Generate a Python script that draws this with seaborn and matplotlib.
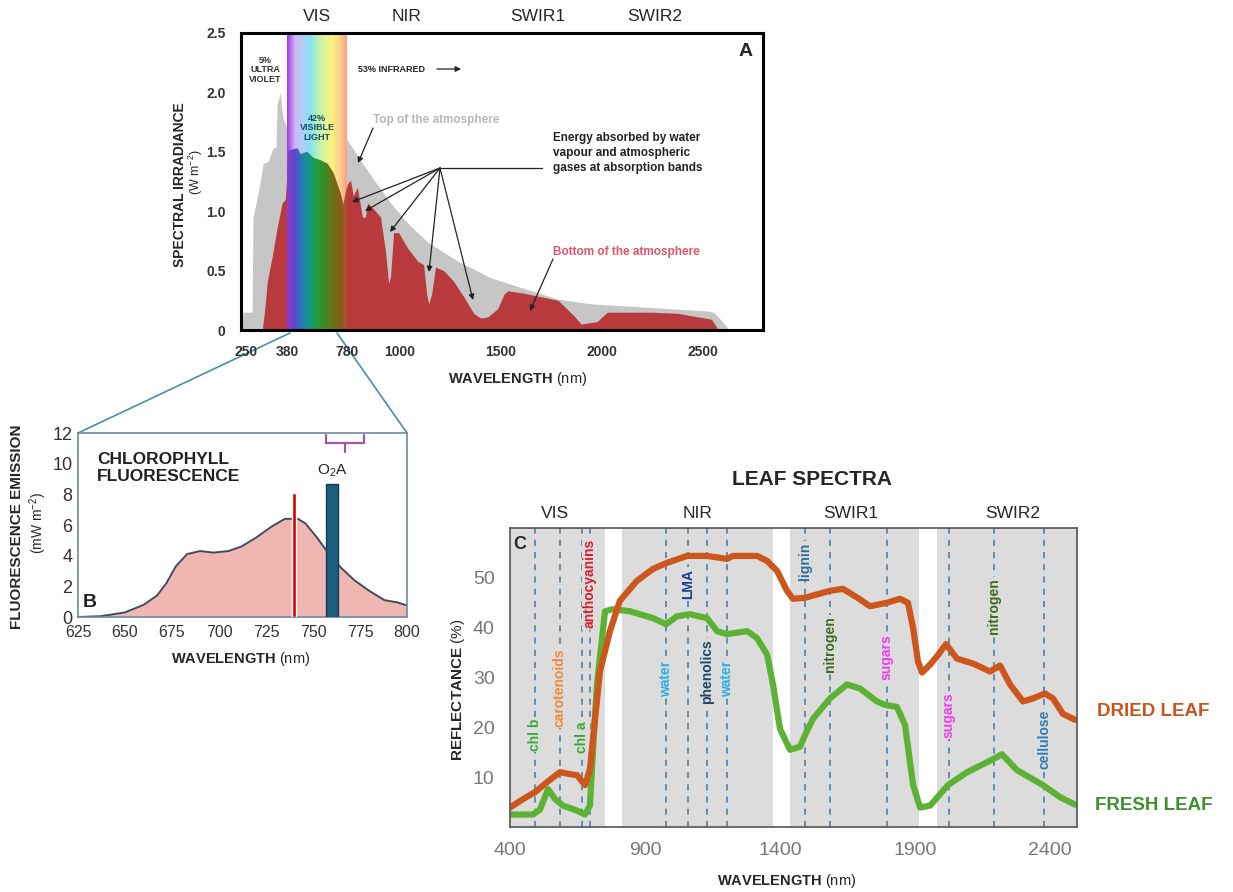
import numpy as np
import matplotlib
matplotlib.use("Agg")
import matplotlib.pyplot as plt
from matplotlib.colors import LinearSegmentedColormap
from matplotlib.lines import Line2D
import seaborn as sns

# ---- panel A: solar irradiance (W m-2) ----
toa_nm = [225, 235, 269, 272, 288, 304, 320, 333, 345, 348, 358, 367, 380, 450, 550, 650, 730,
          780, 835, 890, 962, 1040, 1139, 1287, 1450, 1614, 1782, 1946, 2144, 2327, 2520, 2550,
          2589, 2629]
toa_val = [0.0, 0.15, 0.15, 0.95, 1.15, 1.40, 1.42, 1.52, 1.55, 1.90, 2.00, 1.78, 1.70, 2.0,
           1.95, 1.85, 1.70, 1.60, 1.43, 1.27, 1.07, 0.90, 0.74, 0.58, 0.44, 0.35, 0.26, 0.22,
           0.20, 0.18, 0.16, 0.15, 0.08, 0.0]
boa_nm = [301, 310, 317, 332, 348, 364, 374, 387, 447, 467, 513, 553, 600, 647, 687, 733, 753,
          780, 793, 805, 822, 835, 843, 856, 865, 890, 920, 941, 954, 962, 975, 996, 1040, 1089,
          1119, 1134, 1144, 1158, 1178, 1218, 1267, 1317, 1366, 1401, 1436, 1485, 1515, 1535,
          1614, 1782, 1861, 1896, 1975, 2025, 2243, 2376, 2441, 2540, 2574]
boa_val = [0.0, 0.2, 0.41, 0.61, 0.86, 1.07, 1.10, 1.51, 1.53, 1.48, 1.50, 1.45, 1.43, 1.40,
           1.32, 1.15, 1.05, 1.23, 1.26, 1.13, 1.20, 1.05, 0.95, 0.95, 1.07, 1.02, 0.95, 0.66,
           0.39, 0.45, 0.82, 0.82, 0.69, 0.58, 0.55, 0.30, 0.22, 0.30, 0.53, 0.50, 0.41, 0.28,
           0.14, 0.10, 0.11, 0.18, 0.30, 0.33, 0.31, 0.25, 0.12, 0.05, 0.07, 0.15, 0.15, 0.14,
           0.12, 0.09, 0.0]
a_ticks = [250, 380, 780, 1000, 1500, 2000, 2500]
a_yticks = [0, 0.5, 1.0, 1.5, 2.0, 2.5]
a_ylabels = ["0", "0.5", "1.0", "1.5", "2.0", "2.5"]
a_bands = ["VIS", "NIR", "SWIR1", "SWIR2"]
a_band_nm = [580, 1035, 1683, 2262]

# ---- panel B: chlorophyll fluorescence (mW m-2) ----
fluo_nm = [625, 637, 650, 660, 667, 672, 677, 683, 690, 697, 705, 712, 720, 728, 735, 742, 746,
           752, 758, 765, 772, 780, 788, 795, 800]
fluo_val = [0.0, 0.05, 0.3, 0.8, 1.4, 2.2, 3.3, 4.1, 4.3, 4.2, 4.3, 4.6, 5.2, 5.9, 6.4, 6.4, 6.1,
            5.2, 4.2, 3.2, 2.4, 1.7, 1.1, 0.95, 0.75]
red_line_nm, red_line_val = 740, 8.1
o2a_nm, o2a_val = 760, 8.7

# ---- panel C: leaf reflectance (%) ----
dried_nm = [400, 448, 493, 537, 585, 622, 648, 678, 696, 715, 733, 770, 807, 870, 930, 981, 1056,
            1130, 1204, 1226, 1315, 1352, 1389, 1426, 1448, 1493, 1585, 1633, 1690, 1733, 1796,
            1844, 1874, 1893, 1911, 1926, 1956, 1985, 2015, 2055, 2115, 2178, 2215, 2252, 2300,
            2337, 2381, 2411, 2448, 2493]
dried_val = [3.9, 5.6, 7.0, 9.0, 11.0, 10.6, 10.4, 8.4, 11.6, 21.7, 31.2, 39.3, 45.4, 49.4, 51.8,
             53.0, 54.4, 54.4, 53.8, 54.4, 54.4, 53.4, 51.4, 47.4, 45.8, 46.0, 47.4, 47.8, 45.9,
             44.3, 45.0, 45.8, 45.0, 39.9, 33.2, 31.0, 32.6, 34.5, 36.7, 33.8, 32.8, 31.2, 32.4,
             28.6, 25.2, 25.8, 26.8, 25.8, 22.7, 21.5]
fresh_nm = [400, 485, 511, 541, 567, 596, 648, 678, 696, 707, 722, 752, 781, 844, 930, 978, 1019,
            1067, 1130, 1167, 1204, 1278, 1315, 1352, 1374, 1400, 1437, 1474, 1493, 1522, 1585,
            1648, 1696, 1759, 1789, 1833, 1863, 1893, 1919, 1956, 2022, 2093, 2189, 2222, 2278,
            2374, 2437, 2493]
fresh_val = [2.5, 2.5, 3.5, 7.6, 5.6, 4.3, 3.3, 2.5, 4.3, 15.0, 28.6, 43.3, 43.7, 43.3, 41.9,
             40.7, 42.3, 42.7, 41.9, 39.3, 38.7, 39.3, 37.9, 34.6, 28.6, 19.7, 15.5, 16.1, 18.5,
             21.7, 25.8, 28.6, 27.8, 25.2, 24.5, 24.1, 20.5, 8.4, 3.9, 4.3, 8.4, 11.0, 13.6, 14.6,
             11.4, 8.4, 6.0, 4.5]
c_gray_bands = [(400, 752), (815, 1374), (1437, 1915), (1981, 2500)]
feat_nm = [493, 585, 666, 696, 978, 1060, 1130, 1204, 1493, 1585, 1796, 2026, 2193, 2378]
feat_label = ["chl b", "carotenoids", "chl a", "anthocyanins", "water", "LMA", "phenolics",
              "water", "lignin", "nitrogen", "sugars", "sugars", "nitrogen", "cellulose"]
feat_color = ["#3aa935", "#f28a3c", "#3aa935", "#d81e2c", "#29aee6", "#1e3a8c", "#1c4766",
              "#29aee6", "#2a6e9c", "#3f6b1f", "#f03cf0", "#f03cf0", "#3f6b1f", "#2b7bb3"]
feat_text_y = [18.5, 28, 18, 48.8, 29.8, 48.8, 31.2, 29.8, 53.4, 36.7, 34, 22.5, 44.3, 17.5]
c_bands = ["VIS", "NIR", "SWIR1", "SWIR2"]
c_band_nm = [567, 1096, 1663, 2263]

W, H = 1233, 892


def fxy(x, y):
    return (x / W, 1 - y / H)


def box(l, t, r, b):
    return [l / W, 1 - b / H, (r - l) / W, (b - t) / H]


# the original panel A stretches the visible part of the axis
knot_nm = [0, 250, 380, 780, 1000, 2500, 4000]
knot_px = [195.25, 246, 287, 347, 399, 702, 1006.5]


def a_fwd(x):
    return np.interp(x, knot_nm, knot_px)


def a_inv(p):
    return np.interp(p, knot_px, knot_nm)


sns.set_style("white")
plt.rcParams["font.family"] = ["Liberation Sans", "DejaVu Sans"]
plt.rcParams["mathtext.fontset"] = "custom"
plt.rcParams["mathtext.rm"] = "Liberation Sans"
plt.rcParams["mathtext.bf"] = "Liberation Sans:bold"
plt.rcParams["mathtext.it"] = "Liberation Sans:italic"

fig = plt.figure(figsize=(W / 100, H / 100), dpi=100)

# ================= PANEL A =================
axA = fig.add_axes(box(241, 33, 763, 330))
axA.set_xscale("function", functions=(a_fwd, a_inv))
axA.fill_between(toa_nm, toa_val, color="#c6c6c6", lw=0, zorder=1)

pale_colors = ["#a040e8", "#d6b4f2", "#b0cdf8", "#86e2f2", "#b6f0b8", "#dff59a", "#fbf07a",
               "#fdd08c", "#f79a84"]
dark_colors = ["#8c3ccc", "#5a48d0", "#1f7fb0", "#149a7c", "#1f9a3c", "#3e8a22", "#6a7418",
               "#806214", "#b84a3a"]
pale = LinearSegmentedColormap.from_list("pale", pale_colors)
dark = LinearSegmentedColormap.from_list("dark", dark_colors)
grad = np.linspace(0, 1, 256).reshape(1, -1)
axA.imshow(grad, extent=(380, 780, 0, 2.5), aspect="auto", cmap=pale, zorder=2)
boa = axA.fill_between(boa_nm, boa_val, color="#b83a3c", lw=0, zorder=3)
im = axA.imshow(grad, extent=(380, 780, 0, 2.5), aspect="auto", cmap=dark, zorder=4)
im.set_clip_path(boa.get_paths()[0], axA.transData)

axA.set_xlim(225, 2793)
axA.set_ylim(0, 2.5)
axA.set_xticks(a_ticks)
axA.set_xticklabels([str(t) for t in a_ticks])
axA.set_yticks(a_yticks)
axA.set_yticklabels(a_ylabels)
axA.minorticks_off()
axA.tick_params(length=0, labelsize=10, labelcolor="#333333", pad=11)
for lab in axA.get_xticklabels() + axA.get_yticklabels():
    lab.set_fontweight("bold")
for s in axA.spines.values():
    s.set_linewidth(2.2)
    s.set_color("black")
    s.set_zorder(6)

for name, nm in zip(a_bands, a_band_nm):
    axA.text(nm, 2.64, name, ha="center", va="center", fontsize=12.5, clip_on=False)

fig.text(*fxy(746, 51), "A", ha="center", va="center", fontsize=14, fontweight="bold")
fig.text(*fxy(265, 70), "5%\nULTRA\nVIOLET", ha="center", va="center", fontsize=6.5,
         fontweight="bold", color="#333333", linespacing=1.1, zorder=10)
fig.text(*fxy(317, 128), "42%\nVISIBLE\nLIGHT", ha="center", va="center", fontsize=6.5,
         fontweight="bold", color="#1d4f5f", linespacing=1.1, zorder=10)
fig.text(*fxy(358, 69), "53% INFRARED", ha="left", va="center", fontsize=6.5,
         fontweight="bold", color="#222222")
fig.text(*fxy(373, 120), "Top of the atmosphere", ha="left", va="center", fontsize=8.5,
         fontweight="bold", color="#b8b8b8")
fig.text(*fxy(553, 153), "Energy absorbed by water\nvapour and atmospheric\ngases at absorption bands",
         ha="left", va="center", fontsize=8.5, fontweight="bold", color="#222222", linespacing=1.35)
fig.text(*fxy(553, 252), "Bottom of the atmosphere", ha="left", va="center", fontsize=8.5,
         fontweight="bold", color="#d9556b")


def arrow(x0, y0, x1, y1, lw=0.9):
    axA.annotate("", xy=fxy(x1, y1), xytext=fxy(x0, y0), xycoords="figure fraction",
                 textcoords="figure fraction", annotation_clip=False, zorder=8,
                 arrowprops=dict(arrowstyle="-|>", color="#222222", lw=lw, mutation_scale=8,
                                 shrinkA=0, shrinkB=0))


arrow(437, 69, 461, 69)
arrow(373, 128, 358, 163)
arrow(553, 259, 530, 311)
fig.add_artist(Line2D([440 / W, 542 / W], [1 - 168 / H, 1 - 168 / H], color="#222222", lw=0.9,
                      zorder=8))
for tx, ty in [(352, 202), (365, 211), (390, 232), (429, 272), (473, 300)]:
    arrow(440, 168, tx, ty)

fig.text(*fxy(180, 185), "SPECTRAL IRRADIANCE", rotation=90, ha="center", va="center",
         fontsize=10, fontweight="bold")
fig.text(*fxy(196, 172), "(W m$^{-2}$)", rotation=90, ha="center", va="center", fontsize=9)
fig.text(*fxy(518, 379), r"$\mathbf{WAVELENGTH}$ (nm)", ha="center", va="center", fontsize=10.5)

# connectors from panel A to panel B
for x0, y0, x1, y1 in [(290, 333, 78, 433), (337, 333, 407, 433)]:
    fig.add_artist(Line2D([x0 / W, x1 / W], [1 - y0 / H, 1 - y1 / H], color="#4a8ea6", lw=1.2,
                          zorder=0))

# ================= PANEL B =================
axB = fig.add_axes(box(78, 433, 407, 617))
axB.fill_between(fluo_nm, fluo_val, color="#f0b6b2", lw=0, zorder=1)
sns.lineplot(x=fluo_nm, y=fluo_val, ax=axB, color="#3e4c5e", lw=1.4, zorder=2)
axB.bar([red_line_nm], [red_line_val], width=2.2, color="#d30000", zorder=3)
axB.bar([o2a_nm], [o2a_val], width=6.5, color="#1c5c7c", edgecolor="#123f57", lw=1, zorder=3)
axB.text(o2a_nm, 9.0, "O$_2$A", ha="center", va="bottom", fontsize=11, color="#222222")
axB.plot([757, 757, 777, 777], [11.85, 11.35, 11.35, 11.85], color="#a05a9e", lw=1.6,
         solid_joinstyle="miter")
axB.plot([767, 767], [11.35, 10.75], color="#a05a9e", lw=1.6)
axB.set_xlim(625, 800)
axB.set_ylim(0, 12)
axB.set_xticks(range(625, 801, 25))
axB.set_yticks(range(0, 13, 2))
axB.set_xlabel("")
axB.set_ylabel("")
axB.tick_params(axis="x", length=0, labelsize=11.5, labelcolor="#333333", pad=6)
axB.tick_params(axis="y", length=0, labelsize=13, labelcolor="#333333", pad=4)
for s in axB.spines.values():
    s.set_linewidth(1.2)
    s.set_color("#6d8b9b")
axB.text(0.058, 0.81, "CHLOROPHYLL\nFLUORESCENCE", transform=axB.transAxes, ha="left",
         va="center", fontsize=12.5, fontweight="bold", color="#222222", linespacing=1.15)
axB.text(0.036, 0.08, "B", transform=axB.transAxes, ha="center", va="center", fontsize=14,
         fontweight="bold", color="#222222")
fig.text(*fxy(17, 527), "FLUORESCENCE EMISSION", rotation=90, ha="center", va="center",
         fontsize=11, fontweight="bold")
fig.text(*fxy(38, 523), "(mW m$^{-2}$)", rotation=90, ha="center", va="center", fontsize=10)
fig.text(*fxy(241, 659), r"$\mathbf{WAVELENGTH}$ (nm)", ha="center", va="center", fontsize=10.5)

# ================= PANEL C =================
axC = fig.add_axes(box(510, 528, 1077, 827))
axC.set_facecolor("white")
for lo, hi in c_gray_bands:
    axC.axvspan(lo, hi, color="#dcdcdc", lw=0, zorder=0)
for nm, lab, col, ty in zip(feat_nm, feat_label, feat_color, feat_text_y):
    axC.axvline(nm, color="#3c7aa8", ls=(0, (4, 4)), lw=1.1, zorder=1)
    axC.text(nm, ty, lab, rotation=90, ha="center", va="center", fontsize=10,
             fontweight="bold", color=col, zorder=2,
             bbox=dict(fc="#dcdcdc", ec="none", pad=1))
sns.lineplot(x=fresh_nm, y=fresh_val, ax=axC, color="#5db233", lw=4.5, zorder=3,
             solid_capstyle="round", solid_joinstyle="round")
sns.lineplot(x=dried_nm, y=dried_val, ax=axC, color="#cc561c", lw=4.5, zorder=4,
             solid_capstyle="round", solid_joinstyle="round")
axC.set_xlim(400, 2500)
axC.set_ylim(0, 60)
axC.set_xticks([400, 900, 1400, 1900, 2400])
axC.set_yticks([10, 20, 30, 40, 50])
axC.set_xlabel("")
axC.set_ylabel("")
axC.tick_params(length=0, labelsize=14, labelcolor="#777777", pad=11)
for s in axC.spines.values():
    s.set_linewidth(1.2)
    s.set_color("#555555")
    s.set_zorder(6)
for name, nm in zip(c_bands, c_band_nm):
    axC.text(nm, 63, name, ha="center", va="center", fontsize=12.5, clip_on=False)
axC.text(437, 56.6, "C", ha="center", va="center", fontsize=13, fontweight="bold", zorder=5)

fig.text(*fxy(812, 479), "LEAF SPECTRA", ha="center", va="center", fontsize=15,
         fontweight="bold")
fig.text(*fxy(458, 690), r"$\mathbf{REFLECTANCE}$ (%)", rotation=90, ha="center", va="center",
         fontsize=11)
fig.text(*fxy(787, 881), r"$\mathbf{WAVELENGTH}$ (nm)", ha="center", va="center", fontsize=10.5)
fig.text(*fxy(1097, 712), "DRIED LEAF", ha="left", va="center", fontsize=13.5,
         fontweight="bold", color="#c8561e")
fig.text(*fxy(1095, 805), "FRESH LEAF", ha="left", va="center", fontsize=13.5,
         fontweight="bold", color="#3f8f2e")

fig.savefig("out.png", dpi=100)
